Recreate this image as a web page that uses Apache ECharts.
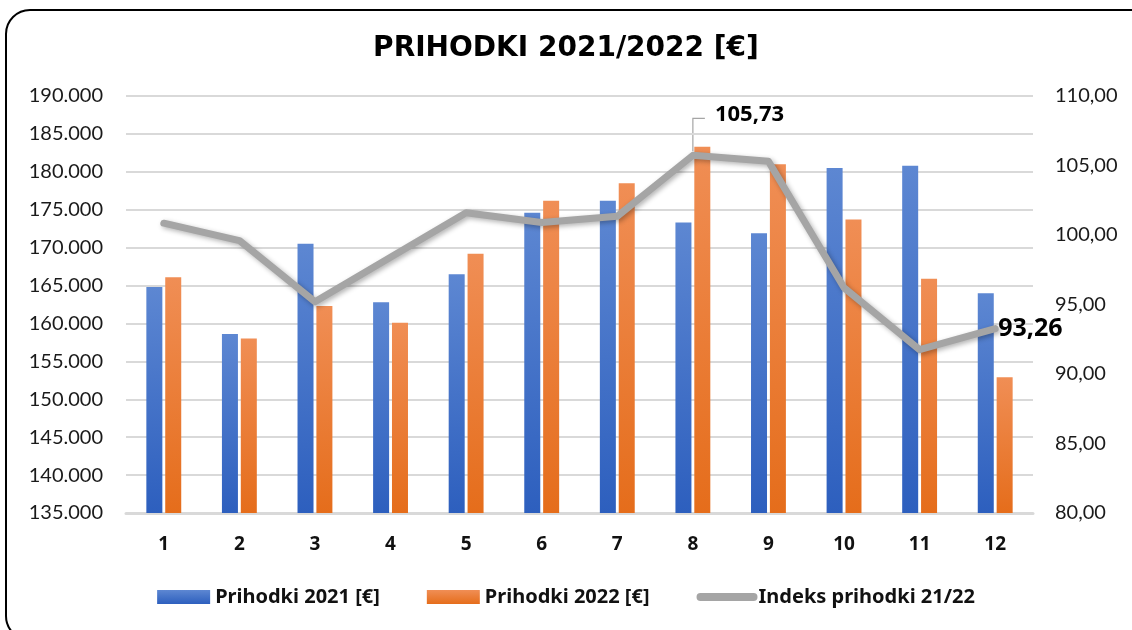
<!DOCTYPE html>
<html>
<head>
<meta charset="utf-8">
<title>Prihodki 2021/2022</title>
<script src="https://cdn.jsdelivr.net/npm/echarts@6/dist/echarts.min.js"></script>
<style>
  html, body { margin: 0; padding: 0; background: #fff; overflow: hidden; }
  #chart { width: 1132px; height: 630px; }
</style>
</head>
<body>
<div id="chart"></div>
<script>
const months = ['1', '2', '3', '4', '5', '6', '7', '8', '9', '10', '11', '12'];
const revenue2021 = [164800, 158600, 170500, 162800, 166500, 174600, 176200, 173300, 171900, 180500, 180800, 164000];
const revenue2022 = [166100, 158000, 162300, 160100, 169200, 176200, 178500, 183300, 181000, 173700, 165900, 152900];
const revenueIndex = [100.85, 99.6, 95.2, 98.4, 101.6, 100.9, 101.35, 105.73, 105.3, 96.2, 91.75, 93.26];
const seriesNames = ['Prihodki 2021 [€]', 'Prihodki 2022 [€]', 'Indeks prihodki 21/22'];
const peakIdx = 7;
const lastIdx = 11;

const textFont = 'Lato, "Noto Sans", sans-serif';
const boldFont = '"Noto Sans", Lato, sans-serif';

class Chart {
  constructor(el) {
    this.el = el;
  }
  initChart() {
    this.chart = echarts.init(this.el, null, { renderer: 'canvas' });
    this.chart.setOption(this.getOption());
    this.drawLeader();
  }
  gradient(top, bottom) {
    return new echarts.graphic.LinearGradient(0, 0, 0, 1, [
      { offset: 0, color: top },
      { offset: 1, color: bottom }
    ]);
  }
  getGrid() {
    return { left: 126, right: 99, top: 96, bottom: 117, containLabel: false };
  }
  // callout line of the peak label: up from the point, then a short step right
  drawLeader() {
    const [x, y] = this.chart.convertToPixel({ seriesIndex: 2 }, [peakIdx, revenueIndex[peakIdx]]);
    this.chart.setOption({
      graphic: [{
        id: 'leader',
        type: 'polyline',
        silent: true,
        shape: { points: [[x, y - 4], [x, y - 37], [x + 12, y - 37]] },
        style: { stroke: '#A5A5A5', lineWidth: 1.2, fill: null }
      }]
    });
  }
  getOption() {
    const barShadow = {
      shadowBlur: 4,
      shadowColor: 'rgba(0,0,0,0.35)',
      shadowOffsetX: 2,
      shadowOffsetY: 1
    };
    return {
      animation: false,
      textStyle: { fontFamily: textFont },
      title: {
        text: 'PRIHODKI 2021/2022 [€]',
        left: 'center',
        top: 30,
        textStyle: {
          fontFamily: '"DejaVu Sans", sans-serif',
          fontWeight: 'bold',
          fontSize: 28,
          color: '#000'
        }
      },
      graphic: [{
        id: 'frame',
        type: 'rect',
        silent: true,
        shape: { x: 6, y: 10, width: 1150, height: 630, r: 24 },
        style: { fill: 'none', stroke: '#000', lineWidth: 2 }
      }],
      legend: {
        bottom: 18,
        left: 'center',
        itemWidth: 53,
        itemHeight: 14,
        itemGap: 47,
        textStyle: { fontFamily: boldFont, fontWeight: 'bold', fontSize: 20, color: '#111' },
        data: [
          { name: seriesNames[0], icon: 'rect' },
          { name: seriesNames[1], icon: 'rect' },
          {
            name: seriesNames[2],
            itemStyle: { color: 'rgba(0,0,0,0)', borderWidth: 0, shadowBlur: 0 },
            lineStyle: { width: 8, cap: 'round', color: '#A5A5A5', shadowBlur: 0 }
          }
        ]
      },
      grid: this.getGrid(),
      xAxis: {
        type: 'category',
        data: months,
        axisTick: { show: false },
        axisLine: { lineStyle: { color: '#D9D9D9', width: 3 } },
        axisLabel: { margin: 22, fontFamily: boldFont, fontSize: 19, fontWeight: 'bold', color: '#111' }
      },
      yAxis: [{
        type: 'value',
        min: 135000,
        max: 190000,
        interval: 5000,
        axisLine: { show: false },
        axisTick: { show: false },
        splitLine: { lineStyle: { color: '#D9D9D9', width: 2 } },
        axisLabel: {
          margin: 23,
          fontSize: 20,
          color: '#1a1a1a',
          formatter: v => v.toLocaleString('de-DE')
        }
      }, {
        type: 'value',
        min: 80,
        max: 110,
        interval: 5,
        axisLine: { show: false },
        axisTick: { show: false },
        splitLine: { show: false },
        axisLabel: {
          margin: 22,
          fontSize: 20,
          color: '#1a1a1a',
          formatter: v => v.toFixed(2).replace('.', ',')
        }
      }],
      series: [{
        name: seriesNames[0],
        type: 'bar',
        data: revenue2021,
        barWidth: 16,
        barGap: '18%',
        itemStyle: Object.assign({ color: this.gradient('#5D87D2', '#2D5FBE') }, barShadow)
      }, {
        name: seriesNames[1],
        type: 'bar',
        data: revenue2022,
        barWidth: 16,
        itemStyle: Object.assign({ color: this.gradient('#F08E55', '#E56D1B') }, barShadow)
      }, {
        name: seriesNames[2],
        type: 'line',
        yAxisIndex: 1,
        data: revenueIndex.map((v, i) => {
          if (i === peakIdx) return { value: v, label: { show: true, fontSize: 22 } };
          if (i === lastIdx) return { value: v, label: { show: true, fontSize: 25 } };
          return v;
        }),
        symbol: 'circle',
        symbolSize: 2,
        showSymbol: true,
        itemStyle: { color: '#A5A5A5' },
        lineStyle: {
          color: '#A5A5A5',
          width: 7,
          cap: 'round',
          join: 'round',
          shadowBlur: 5,
          shadowColor: 'rgba(0,0,0,0.3)',
          shadowOffsetX: 2,
          shadowOffsetY: 2
        },
        label: {
          show: false,
          position: 'right',
          distance: 2,
          offset: [0, 4],
          fontFamily: boldFont,
          fontWeight: 'bold',
          color: '#000',
          formatter: p => p.value.toFixed(2).replace('.', ',')
        },
        labelLayout: p => p.dataIndex === peakIdx ? { dx: 19, dy: -41 } : {}
      }]
    };
  }
}

const chart = new Chart(document.getElementById('chart'));
chart.initChart();
</script>
</body>
</html>
